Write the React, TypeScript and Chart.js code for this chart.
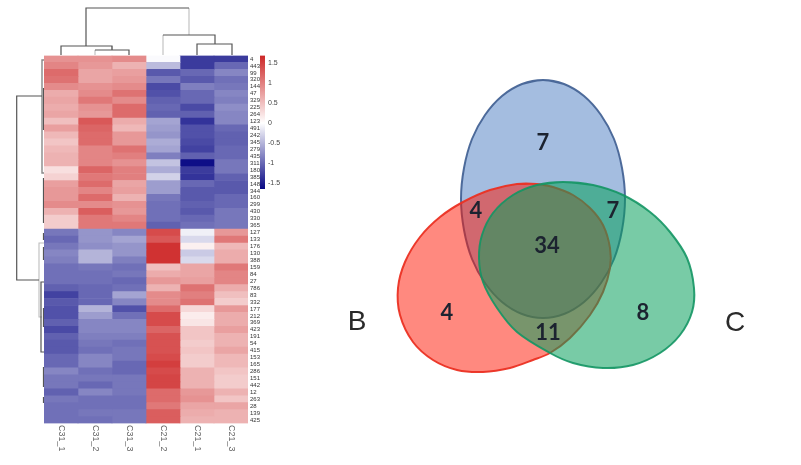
import React, { useEffect, useRef } from "react";
import { Chart, registerables } from "chart.js";

Chart.register(...registerables);

const rowLabels = ["4","443","99","320","144","47","329","225","264","123","491","242","345","279","435","311","180","385","148","344","160","299","430","330","365","127","133","176","130","388","159","84","27","786","83","332","177","212","369","423","191","54","415","153","165","286","151","442","12","263","28","139","425"];
const columnLabels = ["C31_1","C31_2","C31_3","C21_2","C21_1","C21_3"];

const c31_1 = [.85,.95,1.15,1.1,.9,.65,.7,.65,.7,.5,.75,.55,.45,.55,.6,.6,.25,.35,.75,.8,.8,.9,.6,.4,.4,-.9,-1,-.9,-.8,-.85,-.95,-.95,-.95,-1.05,-1.25,-1.1,-1.15,-1.15,-1.05,-1.2,-1.05,-1.1,-1.1,-1,-1,-.8,-.9,-.9,-1.05,-.9,-.95,-.95,-.95];
const c31_2 = [.85,.8,.7,.7,.85,.9,1.05,.85,.8,1.3,1.2,1.15,1.15,.95,.95,.95,1.2,1.05,1.15,.95,1.15,.9,1.25,1.05,1.05,-.7,-.7,-.75,-.5,-.5,-.9,-.95,-.95,-1,-1,-1,-.5,-.65,-.8,-.8,-.85,-.9,-.95,-.8,-.8,-.95,-.9,-1,-.8,-.95,-.95,-.9,-.95];
const c31_3 = [.9,.6,.75,.8,.9,1.1,.9,1.15,1.15,.65,.55,.8,.8,1.1,1,.85,1,1,.7,.75,.6,.85,.8,.95,1.05,-.8,-.6,-.7,-.7,-.85,-.95,-.9,-1,-.95,-.6,-.8,-1.15,-.95,-.8,-.8,-.85,-.95,-.9,-.9,-1,-1,-.9,-.9,-.9,-.95,-.95,-.9,-.9];
const c21_2 = [-.03,-.45,-1.1,-.9,-1.2,-1.15,-1.05,-1,-1.05,-.6,-.65,-.7,-.55,-.6,-.85,-.4,-.55,-.3,-.65,-.65,-.9,-.95,-.95,-.95,-1.05,1.4,1.3,1.6,1.6,1.6,.5,.65,.8,.6,.9,.9,1.15,1.4,1.4,1.2,1.35,1.35,1.35,1.4,1.5,1.4,1.45,1.45,1.15,1.15,1.05,1.25,1.25];
const c21_1 = [-1.3,-1.3,-1,-1.1,-.85,-1,-1,-1.2,-1.05,-1.35,-1.15,-1.15,-1.2,-1.25,-1.05,-1.6,-1.3,-1.35,-1,-1.1,-1.1,-1.05,-1.1,-1,-.95,-.1,-.25,.12,-.35,-.25,.7,.7,.75,1.1,1,1.1,.3,.15,.2,.45,.45,.4,.45,.4,.4,.6,.6,.6,.8,.85,.7,.65,.6];
const c21_3 = [-1.3,-1,-.8,-.95,-.9,-.8,-.85,-.75,-.8,-.8,-1,-1.05,-1.05,-1,-1,-.9,-.9,-1.05,-1.1,-1.1,-1,-1,-.9,-.9,-.9,.8,1.05,.55,.65,.65,1.05,.95,.95,.65,.5,.4,.8,.65,.65,.75,.6,.6,.7,.55,.55,.45,.4,.4,.6,.45,.7,.6,.6];
const heatColumns = [c31_1, c31_2, c31_3, c21_2, c21_1, c21_3];

const legendMin = -1.64;
const legendMax = 1.68;

// Venn outlines (page units)
const vennTop = [[543,80],[522,84],[502,96],[485,115],[472,139],[464,168],[461,199],[464,230],[472,259],[485,283],[502,302],[522,314],[543,318],[564,314],[584,302],[601,283],[614,259],[622,230],[625,199],[622,168],[614,139],[601,115],[584,96],[564,84]];
const vennB = [[537,184],[517,184],[490,190],[463,202],[440,217],[420,237],[405,262],[398,288],[400,315],[413,342],[433,360],[457,370],[483,372],[510,368],[533,360],[550,353],[570,338],[590,315],[603,292],[610,268],[610,248],[603,225],[590,208],[573,195],[553,187]];
const vennC = [[563,182],[537,185],[513,195],[493,213],[482,235],[479,258],[483,282],[497,308],[517,332],[550,353],[573,363],[603,368],[633,365],[660,353],[680,335],[692,312],[694,288],[687,258],[670,232],[650,212],[623,195],[593,185]];
const vennCounts = [7, 4, 7, 34, 4, 8, 11];
const vennCountSpots = [[543,143],[476,211],[613,211],[547,246],[447,313],[643,313],[548,333]];
const setNames = ["B", "C"];
const setNameSpots = [[357,322],[735,323]];

const dendroDark = [
  [[86,46],[86,8],[189,8]],
  [[61,55],[61,46],[112,46],[112,50]],
  [[95,50],[129,50],[129,55]],
  [[163,35],[215,35],[215,44]],
  [[197,55],[197,44],[232,44],[232,55]],
  [[42,96],[16.7,96],[16.7,280],[39,280]],
  [[44,282],[41,282],[41,352],[44,352]],
  [[43.5,88],[43.5,130]],
  [[43.5,178],[43.5,223]],
  [[43.5,233],[43.5,240]],
  [[43.5,247],[43.5,260]],
  [[43.5,308],[43.5,327]],
  [[43.5,367],[43.5,387]],
  [[43.5,397],[43.5,403]],
];
const dendroLight = [
  [[189,8],[189,35]],
  [[163,55],[163,35]],
  [[95,55],[95,50]],
  [[112,46],[112,50]],
  [[44,243],[39,243],[39,317],[42,317]],
];
const dendroMid = [
  [[44,60],[42,60],[42,173],[44,173]],
];

function heatColor(v: number): string {
  if (v < 0) {
    const f = Math.max(0, 1 + v / 1.69);
    return `rgb(${Math.round(255 * f)},${Math.round(255 * f)},${Math.round(128 + 127 * f)})`;
  }
  const f = Math.min(1, v / 1.69);
  return `rgb(${Math.round(255 - 50 * f)},${Math.round(255 - 217 * f)},${Math.round(255 - 217 * f)})`;
}

const toPoints = (pts: number[][]) => pts.map(([x, y]) => ({ x, y }));
const loopPoints = (pts: number[][]) =>
  toPoints([pts[pts.length - 1], ...pts, pts[0], pts[1]]);
const labelFont = "'Liberation Sans',sans-serif";
const softEdge = "blur(0.5px)";

const overlayLabels = {
  id: "overlayLabels",
  afterDatasetsDraw(chart: any) {
    const { ctx, scales } = chart;
    ctx.save();
    ctx.textAlign = "center";
    ctx.textBaseline = "middle";
    ctx.fillStyle = "#1c2330";
    ctx.font = "bold 22px Lato, sans-serif";
    vennCounts.forEach((n, i) => {
      ctx.fillText(String(n), scales.x.getPixelForValue(vennCountSpots[i][0]), scales.y.getPixelForValue(vennCountSpots[i][1]));
    });
    ctx.fillStyle = "#2a2a2a";
    ctx.font = "28px 'Liberation Sans', sans-serif";
    setNames.forEach((n, i) => {
      ctx.fillText(n, scales.x.getPixelForValue(setNameSpots[i][0]), scales.y.getPixelForValue(setNameSpots[i][1]));
    });
    ctx.restore();
  },
};

export default function App() {
  const overlayRef = useRef<HTMLCanvasElement>(null);
  const heatRef = useRef<HTMLCanvasElement>(null);
  const legendRef = useRef<HTMLCanvasElement>(null);

  useEffect(() => {
    const lineSet = (pts: number[][], color: string, width: number) => ({
      data: toPoints(pts),
      showLine: true,
      borderColor: color,
      borderWidth: width,
      pointRadius: 0,
      fill: false,
      tension: 0,
    });
    const shape = (pts: number[][], fillColor: string, stroke: string, order: number) => ({
      data: loopPoints(pts),
      showLine: true,
      backgroundColor: fillColor,
      borderColor: stroke,
      borderWidth: 2,
      pointRadius: 0,
      fill: "shape",
      tension: 0.33,
      order,
    });
    const overlay = new Chart(overlayRef.current!, {
      type: "scatter",
      data: {
        datasets: [
          shape(vennC, "rgba(10,160,93,0.55)", "rgba(20,150,100,0.9)", 10),
          shape(vennB, "rgba(255,20,0,0.5)", "rgba(235,50,35,0.95)", 11),
          shape(vennTop, "rgba(73,123,193,0.5)", "rgba(70,100,150,0.95)", 12),
          ...dendroDark.map((p) => lineSet(p, "#555555", 1.2)),
          ...dendroMid.map((p) => lineSet(p, "#888888", 1.4)),
          ...dendroLight.map((p) => lineSet(p, "#bdbdbd", 1.1)),
        ],
      } as any,
      options: {
        responsive: false,
        animation: false,
        events: [],
        layout: { padding: 0 },
        plugins: { legend: { display: false }, tooltip: { enabled: false } },
        scales: {
          x: { type: "linear", min: 0, max: 801, display: false },
          y: { type: "linear", min: 0, max: 465, reverse: true, display: false },
        },
      },
      plugins: [overlayLabels],
    } as any);

    const heat = new Chart(heatRef.current!, {
      type: "bar",
      data: {
        labels: rowLabels,
        datasets: heatColumns.map((col, i) => ({
          label: columnLabels[i],
          data: col.map(() => 1),
          backgroundColor: col.map(heatColor),
          borderWidth: 0,
          barPercentage: 1,
          categoryPercentage: 1,
        })),
      },
      options: {
        indexAxis: "y",
        responsive: false,
        animation: false,
        events: [],
        layout: { padding: { left: 4, top: 5.5, right: 0, bottom: 0 } },
        plugins: { legend: { display: false }, tooltip: { enabled: false } },
        scales: {
          x: {
            type: "linear",
            stacked: true,
            min: 0,
            max: 6,
            grid: { display: false },
            border: { display: false },
            afterBuildTicks: (s: any) => {
              s.ticks = columnLabels.map((_, i) => ({ value: i + 0.5 }));
            },
            afterFit: (s: any) => {
              s.height = 36.5;
              s.paddingLeft = 0;
              s.paddingRight = 0;
            },
            ticks: {
              autoSkip: false,
              minRotation: -90,
              maxRotation: -90,
              padding: 20,
              font: { size: 9, family: labelFont },
              color: "#666",
              callback: (v: any) => columnLabels[Math.floor(Number(v))],
            },
          },
          y: {
            stacked: true,
            position: "right",
            grid: { display: false, drawTicks: false },
            border: { display: false },
            afterFit: (s: any) => {
              s.width = 42;
              s.paddingTop = 0;
              s.paddingBottom = 0;
            },
            ticks: {
              autoSkip: false,
              padding: 2,
              font: { size: 6, family: labelFont },
              color: "#333",
            },
          },
        },
      },
    } as any);

    const legend = new Chart(legendRef.current!, {
      type: "bar",
      data: {
        labels: [""],
        datasets: [{
          data: [[legendMin, legendMax]],
          barPercentage: 1,
          categoryPercentage: 1,
          borderWidth: 0,
          backgroundColor: (c: any) => {
            const { ctx, chartArea } = c.chart;
            if (!chartArea) return "#fff";
            const g = ctx.createLinearGradient(0, chartArea.bottom, 0, chartArea.top);
            [legendMin, -1.2, -0.8, -0.4, 0, 0.4, 0.8, 1.2, legendMax].forEach((v) => {
              g.addColorStop((v - legendMin) / (legendMax - legendMin), heatColor(v));
            });
            return g;
          },
        }],
      },
      options: {
        responsive: false,
        animation: false,
        events: [],
        layout: { padding: { left: 0, top: 5.5, right: 0, bottom: 6 } },
        plugins: { legend: { display: false }, tooltip: { enabled: false } },
        scales: {
          x: { display: false },
          y: {
            position: "right",
            min: legendMin,
            max: legendMax,
            grid: { display: false, drawTicks: false },
            border: { display: false },
            afterFit: (s: any) => {
              s.width = 25;
              s.paddingTop = 0;
              s.paddingBottom = 0;
            },
            ticks: {
              stepSize: 0.5,
              includeBounds: false,
              padding: 3,
              font: { size: 7, family: labelFont },
              color: "#444",
              callback: (v: any) => String(Math.round(Number(v) * 10) / 10),
            },
          },
        },
      },
    } as any);

    return () => {
      overlay.destroy();
      heat.destroy();
      legend.destroy();
    };
  }, []);

  return (
    <div style={{ position: "absolute", left: 0, top: 0, width: 801, height: 465, background: "#fff", overflow: "hidden" }}>
      <canvas ref={overlayRef} width={801} height={465} style={{ position: "absolute", left: 0, top: 0, filter: softEdge }} />
      <canvas ref={heatRef} width={250} height={410} style={{ position: "absolute", left: 40, top: 50, filter: softEdge }} />
      <canvas ref={legendRef} width={30} height={145} style={{ position: "absolute", left: 260, top: 50, filter: softEdge }} />
    </div>
  );
}
